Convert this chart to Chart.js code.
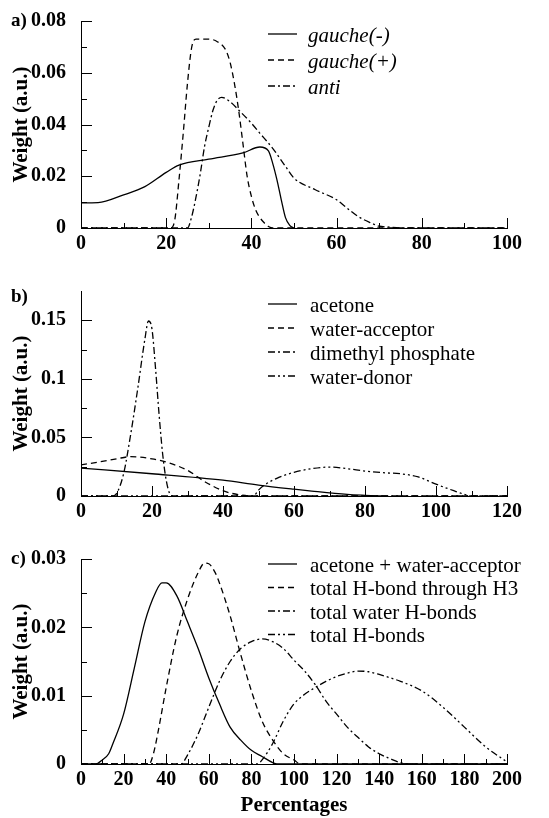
<!DOCTYPE html>
<html>
<head>
<meta charset="utf-8">
<script src="https://cdn.jsdelivr.net/npm/chart.js@4"></script>
<style>
  body { margin: 0; background: #fff; }
  #wrap { position: relative; width: 549px; height: 818px; }
  canvas { position: absolute; left: 0; }
</style>
</head>
<body>
<div id="wrap">
  <canvas id="chartA" width="549" height="272" style="top:0px"></canvas>
  <canvas id="chartB" width="549" height="268" style="top:272px"></canvas>
  <canvas id="chartC" width="549" height="278" style="top:540px"></canvas>
</div>
<script>
// ---- panel a) dihedral populations
var aLabels = ['gauche(-)', 'gauche(+)', 'anti'];
var aTicksX = [0, 20, 40, 60, 80, 100];
var aTicksY = [0, 0.02, 0.04, 0.06, 0.08];

var gMinusX = [0, 4, 10, 15, 20, 23, 30, 38, 42, 44, 45, 46, 47, 48, 49, 50];
var gMinusY = [0.0097, 0.0098, 0.0128, 0.016, 0.0215, 0.0243, 0.0266, 0.029, 0.0313, 0.0298, 0.025, 0.0186, 0.011, 0.004, 0.001, 0];
var gPlusX = [0, 21, 22, 23, 24, 25, 26, 27, 30, 32, 34, 35, 36, 37, 38, 39, 40, 41, 42, 43, 44, 45, 100];
var gPlusY = [0, 0, 0.003, 0.0186, 0.0366, 0.056, 0.070, 0.073, 0.073, 0.072, 0.0687, 0.064, 0.056, 0.0456, 0.0328, 0.02, 0.0122, 0.007, 0.004, 0.002, 0.0006, 0, 0];
var antiX = [0, 25, 26, 27, 28, 29, 30, 31, 32, 33, 35, 37, 40, 42, 45, 48, 50, 55, 60, 62, 65, 68, 70, 72, 75, 100];
var antiY = [0, 0, 0.0045, 0.012, 0.021, 0.0315, 0.039, 0.0456, 0.0494, 0.0505, 0.0488, 0.0456, 0.0405, 0.0366, 0.0308, 0.0238, 0.0193, 0.0148, 0.0109, 0.0083, 0.0045, 0.002, 0.0007, 0.0004, 0, 0];

// ---- panel b) H-bond partners
var bLabels = ['acetone', 'water-acceptor', 'dimethyl phosphate', 'water-donor'];
var bTicksX = [0, 20, 40, 60, 80, 100, 120];
var bTicksY = [0, 0.05, 0.1, 0.15];

var acetoneX = [0, 20, 40, 50, 60, 65, 75, 80, 85];
var acetoneY = [0.0238, 0.019, 0.0135, 0.0093, 0.0058, 0.0042, 0.0014, 0.0006, 0];
var wAccX = [0, 5, 10, 14, 20, 25, 30, 35, 40, 45, 50, 120];
var wAccY = [0.0266, 0.029, 0.0317, 0.0336, 0.0317, 0.028, 0.0219, 0.012, 0.0045, 0.0008, 0, 0];
var dmpX = [0, 9, 10, 12, 14, 16, 18, 19, 20, 21, 22, 23, 24, 25, 26, 120];
var dmpY = [0, 0, 0.002, 0.019, 0.0527, 0.092, 0.134, 0.1494, 0.1424, 0.1088, 0.0695, 0.0359, 0.0135, 0.002, 0, 0];
var wDonX = [0, 48, 49, 50, 52, 55, 60, 65, 70, 75, 80, 85, 90, 95, 100, 105, 108, 110, 120];
var wDonY = [0, 0, 0.001, 0.005, 0.010, 0.0149, 0.0202, 0.0233, 0.0247, 0.0233, 0.0213, 0.0199, 0.019, 0.0163, 0.0101, 0.0045, 0.0014, 0, 0];

// ---- panel c) totals
var cLabels = ['acetone + water-acceptor', 'total H-bond through H3', 'total water H-bonds', 'total H-bonds'];
var cTicksX = [0, 20, 40, 60, 80, 100, 120, 140, 160, 180, 200];
var cTicksY = [0, 0.01, 0.02, 0.03];

var accWaX = [0, 7, 10, 13, 15, 20, 25, 30, 35, 38, 40, 45, 50, 55, 60, 65, 70, 75, 80, 85, 90, 92, 200];
var accWaY = [0, 0, 0.0006, 0.0015, 0.003, 0.0073, 0.014, 0.0208, 0.0251, 0.0265, 0.0265, 0.0246, 0.0208, 0.0169, 0.0126, 0.0088, 0.0054, 0.0035, 0.002, 0.0011, 0.0002, 0, 0];
var h3X = [0, 32, 34, 36, 40, 45, 50, 55, 58, 60, 63, 65, 70, 75, 80, 85, 90, 95, 100, 103, 200];
var h3Y = [0, 0, 0.0015, 0.0044, 0.0112, 0.0188, 0.0241, 0.028, 0.0294, 0.0293, 0.028, 0.0265, 0.0217, 0.016, 0.0107, 0.0063, 0.0035, 0.0015, 0.0006, 0, 0];
var totWX = [0, 47, 50, 55, 60, 65, 70, 75, 80, 85, 90, 95, 100, 105, 110, 115, 120, 125, 130, 135, 140, 145, 150, 155, 200];
var totWY = [0, 0, 0.0013, 0.0044, 0.0083, 0.0121, 0.015, 0.0169, 0.0179, 0.0183, 0.0179, 0.0169, 0.0152, 0.0136, 0.0116, 0.0092, 0.0073, 0.0054, 0.0039, 0.0025, 0.0015, 0.0008, 0.0002, 0, 0];
var totHX = [0, 83, 85, 90, 95, 100, 105, 110, 115, 120, 125, 130, 135, 140, 150, 160, 170, 180, 190, 200];
var totHY = [0, 0, 0.0006, 0.003, 0.0063, 0.0088, 0.0102, 0.0112, 0.0121, 0.0128, 0.0133, 0.0136, 0.0135, 0.0131, 0.0121, 0.0107, 0.0083, 0.0054, 0.0025, 0.0003];

var SERIF = "'Liberation Serif', 'Times New Roman', serif";
var SOLID = [], DASH = [6, 4], DASHDOT = [7, 3, 2, 3], DASHDOTDOT = [7, 3, 2, 3, 2, 3];

function pts(xs, ys) {
    return xs.map(function (x, i) { return { x: x, y: ys[i] }; });
}

function line(label, xs, ys, dash) {
    return {
        label: label,
        data: pts(xs, ys),
        borderColor: '#000',
        borderWidth: 1.3,
        borderDash: dash,
        pointRadius: 0,
        fill: false,
        cubicInterpolationMode: 'monotone'
    };
}

// inward ticks, panel tag, legend inside the plot
var decor = {
    id: 'decor',
    afterDraw: function (chart, args, o) {
        var ctx = chart.ctx;
        var xs = chart.scales.x, ys = chart.scales.y;
        var area = chart.chartArea;
        ctx.save();
        ctx.strokeStyle = '#000';
        ctx.lineWidth = 1;
        ctx.setLineDash([]);

        var xv = xs.ticks.map(function (t) { return t.value; });
        var yv = ys.ticks.map(function (t) { return t.value; });
        ctx.beginPath();
        xv.forEach(function (v, i) {
            var px = Math.round(xs.getPixelForValue(v)) + 0.5;
            ctx.moveTo(px, area.bottom); ctx.lineTo(px, area.bottom - 10);
            if (i > 0) {
                var mx = Math.round(xs.getPixelForValue((v + xv[i - 1]) / 2)) + 0.5;
                ctx.moveTo(mx, area.bottom); ctx.lineTo(mx, area.bottom - 5);
            }
        });
        yv.forEach(function (v, i) {
            var py = Math.round(ys.getPixelForValue(v)) + 0.5;
            ctx.moveTo(area.left, py); ctx.lineTo(area.left + 11, py);
            if (i > 0) {
                var my = Math.round(ys.getPixelForValue((v + yv[i - 1]) / 2)) + 0.5;
                ctx.moveTo(area.left, my); ctx.lineTo(area.left + 6, my);
            }
        });
        ctx.stroke();

        // panel tag
        ctx.fillStyle = '#000';
        ctx.font = 'bold 19px ' + SERIF;
        ctx.textAlign = 'left';
        ctx.textBaseline = 'middle';
        ctx.fillText(o.tag, 11, o.tagY);

        // legend
        ctx.font = (o.italic ? 'italic ' : '') + '21px ' + SERIF;
        ctx.lineWidth = 1.3;
        chart.data.datasets.forEach(function (ds, i) {
            var y = o.legendTop + i * o.legendGap;
            ctx.setLineDash(ds.borderDash || []);
            ctx.beginPath();
            ctx.moveTo(268, y - 1); ctx.lineTo(297, y - 1);
            ctx.stroke();
            ctx.setLineDash([]);
            ctx.fillText(ds.label, o.textX, y + 1);
        });
        ctx.restore();
    }
};

function makeChart(id, datasets, xMax, yMax, xTicks, yTicks, padTop, xAxisH, xTitle, deco) {
    var ctx = document.getElementById(id).getContext('2d');
    return new Chart(ctx, {
        type: 'line',
        data: { datasets: datasets },
        plugins: [decor],
        options: {
            responsive: false,
            animation: false,
            layout: { padding: { top: padTop, right: 42, bottom: 0, left: 0 } },
            plugins: {
                legend: { display: false },
                tooltip: { enabled: false },
                decor: deco
            },
            scales: {
                x: {
                    type: 'linear',
                    min: 0,
                    max: xMax,
                    grid: { display: false },
                    border: { display: true, color: '#000', width: 1 },
                    afterBuildTicks: function (s) { s.ticks = xTicks.map(function (v) { return { value: v }; }); },
                    afterFit: function (s) { s.height = xAxisH; },
                    ticks: {
                        color: '#000',
                        padding: -4,
                        maxRotation: 0,
                        font: { family: SERIF, size: 20, weight: 'bold' },
                        callback: function (v) { return String(v); }
                    },
                    title: {
                        display: !!xTitle,
                        text: xTitle || '',
                        color: '#000',
                        padding: { top: 0, bottom: 0 },
                        font: { family: SERIF, size: 21, weight: 'bold' }
                    }
                },
                y: {
                    min: 0,
                    max: yMax,
                    grid: { display: false },
                    border: { display: true, color: '#000', width: 1 },
                    afterBuildTicks: function (s) { s.ticks = yTicks.map(function (v) { return { value: v }; }); },
                    afterFit: function (s) { s.width = 81; },
                    ticks: {
                        color: '#000',
                        padding: 7,
                        font: { family: SERIF, size: 20, weight: 'bold' },
                        callback: function (v) { return String(v); }
                    },
                    title: {
                        display: true,
                        text: 'Weight (a.u.)',
                        color: '#000',
                        padding: { top: 9, bottom: 0 },
                        font: { family: SERIF, size: 21, weight: 'bold' }
                    }
                }
            }
        }
    });
}

makeChart('chartA', [
    line(aLabels[0], gMinusX, gMinusY, SOLID),
    line(aLabels[1], gPlusX, gPlusY, DASH),
    line(aLabels[2], antiX, antiY, DASHDOT)
], 100, 0.08, aTicksX, aTicksY, 21, 44, null,
    { tag: 'a)', tagY: 21, legendTop: 35, legendGap: 26, textX: 308, italic: true });

makeChart('chartB', [
    line(bLabels[0], acetoneX, acetoneY, SOLID),
    line(bLabels[1], wAccX, wAccY, DASH),
    line(bLabels[2], dmpX, dmpY, DASHDOT),
    line(bLabels[3], wDonX, wDonY, DASHDOTDOT)
], 120, 0.175, bTicksX, bTicksY, 16, 44, null,
    { tag: 'b)', tagY: 25, legendTop: 33, legendGap: 24, textX: 310, italic: false });

makeChart('chartC', [
    line(cLabels[0], accWaX, accWaY, SOLID),
    line(cLabels[1], h3X, h3Y, DASH),
    line(cLabels[2], totWX, totWY, DASHDOT),
    line(cLabels[3], totHX, totHY, DASHDOTDOT)
], 200, 0.03, cTicksX, cTicksY, 16, 54, 'Percentages',
    { tag: 'c)', tagY: 19, legendTop: 25, legendGap: 23.5, textX: 310, italic: false });
</script>
</body>
</html>
